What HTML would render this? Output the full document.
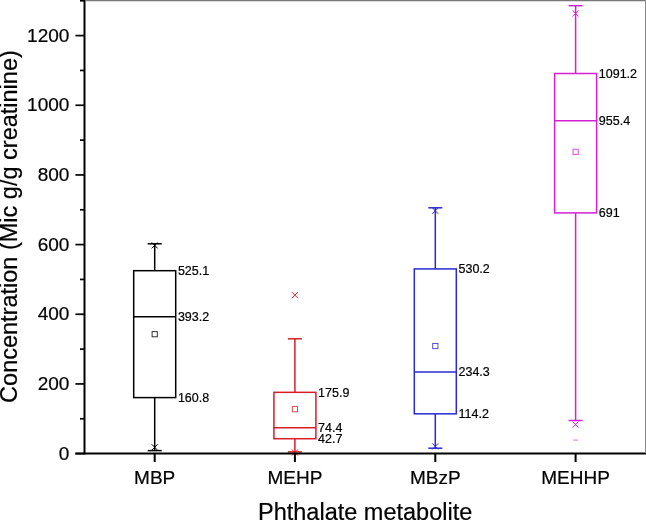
<!DOCTYPE html>
<html><head><meta charset="utf-8"><style>
html,body{margin:0;padding:0;background:#fff;overflow:hidden}
svg{display:block;will-change:transform}
text{font-family:"Liberation Sans",sans-serif;fill:#000;stroke:#000;stroke-width:0.2px}
.tk{font-size:19px}
.lb{font-size:12.5px}
.ti{font-size:23.5px}
</style></head><body>
<svg width="646" height="520" viewBox="0 0 646 520">
<rect width="646" height="520" fill="#fff"/>
<line x1="75.4" y1="453.60" x2="84" y2="453.60" stroke="#000" stroke-width="1.7"/>
<text x="69.4" y="459.80" text-anchor="end" class="tk">0</text>
<line x1="80" y1="418.77" x2="84" y2="418.77" stroke="#000" stroke-width="1.7"/>
<line x1="75.4" y1="383.93" x2="84" y2="383.93" stroke="#000" stroke-width="1.7"/>
<text x="69.4" y="390.13" text-anchor="end" class="tk">200</text>
<line x1="80" y1="349.10" x2="84" y2="349.10" stroke="#000" stroke-width="1.7"/>
<line x1="75.4" y1="314.27" x2="84" y2="314.27" stroke="#000" stroke-width="1.7"/>
<text x="69.4" y="320.47" text-anchor="end" class="tk">400</text>
<line x1="80" y1="279.44" x2="84" y2="279.44" stroke="#000" stroke-width="1.7"/>
<line x1="75.4" y1="244.60" x2="84" y2="244.60" stroke="#000" stroke-width="1.7"/>
<text x="69.4" y="250.80" text-anchor="end" class="tk">600</text>
<line x1="80" y1="209.77" x2="84" y2="209.77" stroke="#000" stroke-width="1.7"/>
<line x1="75.4" y1="174.94" x2="84" y2="174.94" stroke="#000" stroke-width="1.7"/>
<text x="69.4" y="181.14" text-anchor="end" class="tk">800</text>
<line x1="80" y1="140.10" x2="84" y2="140.10" stroke="#000" stroke-width="1.7"/>
<line x1="75.4" y1="105.27" x2="84" y2="105.27" stroke="#000" stroke-width="1.7"/>
<text x="69.4" y="111.47" text-anchor="end" class="tk">1000</text>
<line x1="80" y1="70.44" x2="84" y2="70.44" stroke="#000" stroke-width="1.7"/>
<line x1="75.4" y1="35.60" x2="84" y2="35.60" stroke="#000" stroke-width="1.7"/>
<text x="69.4" y="41.80" text-anchor="end" class="tk">1200</text>
<line x1="80" y1="0.77" x2="84" y2="0.77" stroke="#000" stroke-width="1.7"/>
<line x1="154.7" y1="453.6" x2="154.7" y2="462" stroke="#000" stroke-width="2"/>
<text x="154.7" y="483.8" text-anchor="middle" class="tk">MBP</text>
<line x1="294.9" y1="453.6" x2="294.9" y2="462" stroke="#000" stroke-width="2"/>
<text x="294.9" y="483.8" text-anchor="middle" class="tk">MEHP</text>
<line x1="435.3" y1="453.6" x2="435.3" y2="462" stroke="#000" stroke-width="2"/>
<text x="435.3" y="483.8" text-anchor="middle" class="tk">MBzP</text>
<line x1="575.6" y1="453.6" x2="575.6" y2="462" stroke="#000" stroke-width="2"/>
<text x="575.6" y="483.8" text-anchor="middle" class="tk">MEHHP</text>
<g stroke="#000" stroke-width="1.5" fill="none"><rect x="133.7" y="270.69" width="42" height="126.90" fill="none"/><line x1="133.7" y1="316.64" x2="175.7" y2="316.64"/><line x1="154.7" y1="270.69" x2="154.7" y2="243.8"/><line x1="154.7" y1="397.59" x2="154.7" y2="450.6"/><line x1="147.7" y1="243.8" x2="161.7" y2="243.8"/><line x1="147.7" y1="450.6" x2="161.7" y2="450.6"/><path d="M151.7 242.4L157.7 248.4M157.7 242.4L151.7 248.4" stroke-width="1"/><path d="M151.7 444.3L157.7 450.3M157.7 444.3L151.7 450.3" stroke-width="1"/><rect x="152.1" y="331.59999999999997" width="5.2" height="5.2" fill="none" stroke-width="0.95" opacity="0.85"/></g>
<text x="177.89999999999998" y="401.89" class="lb">160.8</text>
<text x="177.89999999999998" y="320.94" class="lb">393.2</text>
<text x="177.89999999999998" y="274.99" class="lb">525.1</text>
<g stroke="#d81e28" stroke-width="1.5" fill="none"><rect x="273.9" y="392.33" width="42" height="46.40" fill="none"/><line x1="273.9" y1="427.68" x2="315.9" y2="427.68"/><line x1="294.9" y1="392.33" x2="294.9" y2="338.8"/><line x1="294.9" y1="438.73" x2="294.9" y2="451.9"/><line x1="287.9" y1="338.8" x2="301.9" y2="338.8"/><line x1="287.9" y1="451.9" x2="301.9" y2="451.9"/><path d="M291.9 292.2L297.9 298.2M297.9 292.2L291.9 298.2" stroke-width="1"/><path d="M291.9 449.5L297.9 455.5M297.9 449.5L291.9 455.5" stroke-width="1"/><rect x="292.29999999999995" y="406.59999999999997" width="5.2" height="5.2" fill="none" stroke-width="0.95" opacity="0.85"/></g>
<text x="318.09999999999997" y="443.03" class="lb">42.7</text>
<text x="318.09999999999997" y="431.98" class="lb">74.4</text>
<text x="318.09999999999997" y="396.63" class="lb">175.9</text>
<g stroke="#2a2ad0" stroke-width="1.5" fill="none"><rect x="414.3" y="268.92" width="42" height="144.91" fill="none"/><line x1="414.3" y1="371.99" x2="456.3" y2="371.99"/><line x1="435.3" y1="268.92" x2="435.3" y2="207.8"/><line x1="435.3" y1="413.82" x2="435.3" y2="448.2"/><line x1="428.3" y1="207.8" x2="442.3" y2="207.8"/><line x1="428.3" y1="448.2" x2="442.3" y2="448.2"/><path d="M432.3 207.8L438.3 213.8M438.3 207.8L432.3 213.8" stroke-width="1"/><path d="M432.3 443.4L438.3 449.4M438.3 443.4L432.3 449.4" stroke-width="1"/><rect x="432.7" y="343.45" width="5.2" height="5.2" fill="none" stroke-width="0.95" opacity="0.85"/></g>
<text x="458.5" y="418.12" class="lb">114.2</text>
<text x="458.5" y="376.29" class="lb">234.3</text>
<text x="458.5" y="273.22" class="lb">530.2</text>
<g stroke="#d420d4" stroke-width="1.5" fill="none"><rect x="554.6" y="73.50" width="42" height="139.40" fill="none"/><line x1="554.6" y1="120.81" x2="596.6" y2="120.81"/><line x1="575.6" y1="73.50" x2="575.6" y2="5.7"/><line x1="575.6" y1="212.90" x2="575.6" y2="420.5"/><line x1="568.6" y1="5.7" x2="582.6" y2="5.7"/><line x1="568.6" y1="420.5" x2="582.6" y2="420.5"/><path d="M572.6 10.5L578.6 16.5M578.6 10.5L572.6 16.5" stroke-width="1"/><path d="M572.6 421.5L578.6 427.5M578.6 421.5L572.6 427.5" stroke-width="1"/><rect x="573.0" y="149.20000000000002" width="5.2" height="5.2" fill="none" stroke-width="0.95" opacity="0.85"/><line x1="573.0" y1="440.1" x2="578.2" y2="440.1" stroke-width="0.9" opacity="0.7"/></g>
<text x="598.8000000000001" y="217.20" class="lb">691</text>
<text x="598.8000000000001" y="125.11" class="lb">955.4</text>
<text x="598.8000000000001" y="77.80" class="lb">1091.2</text>
<line x1="84.5" y1="0" x2="84.5" y2="454.6" stroke="#000" stroke-width="2"/>
<line x1="75.4" y1="453.6" x2="646" y2="453.6" stroke="#000" stroke-width="2"/>
<line x1="85" y1="0.6" x2="646" y2="0.6" stroke="#777" stroke-width="1.4"/>
<line x1="645.5" y1="0" x2="645.5" y2="453" stroke="#888" stroke-width="1"/>
<text x="365.15" y="519.8" text-anchor="middle" class="ti">Phthalate metabolite</text>
<text transform="translate(16.9,226.55) rotate(-90)" text-anchor="middle" class="ti">Concentration (Mic g/g creatinine)</text>
</svg>
</body></html>
